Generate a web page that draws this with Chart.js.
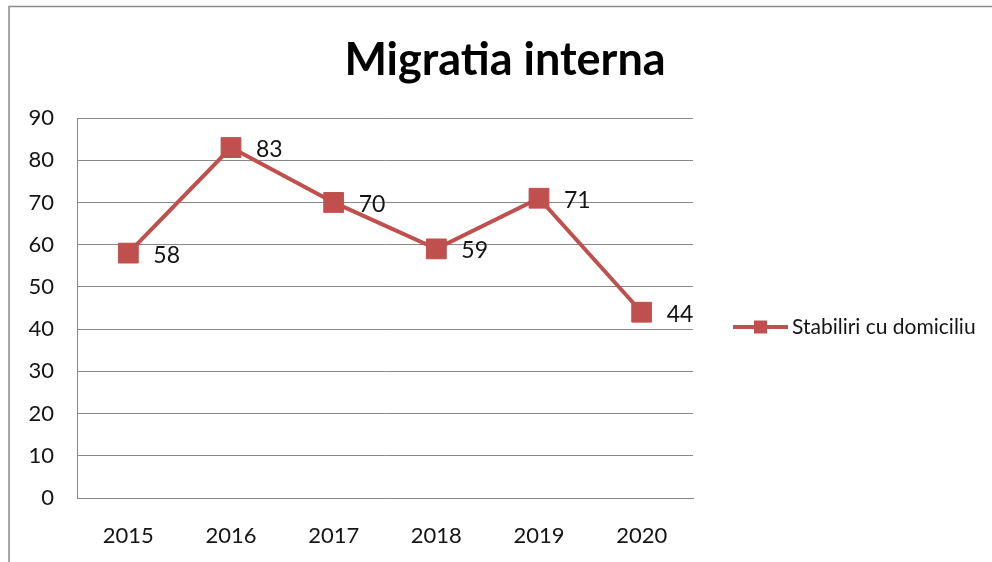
<!DOCTYPE html>
<html>
<head>
<meta charset="utf-8">
<script src="https://cdn.jsdelivr.net/npm/chart.js@4"></script>
<style>
  html, body { margin: 0; padding: 0; background: #fff; }
  #wrap { width: 992px; height: 562px; position: relative; }
</style>
</head>
<body>
<div id="wrap"><canvas id="chart" width="992" height="562"></canvas></div>
<script>
const chartTitle = "Migratia interna";
const seriesName = "Stabiliri cu domiciliu";
const years = ["2015", "2016", "2017", "2018", "2019", "2020"];
const settlements = [58, 83, 70, 59, 71, 44];
const yTicks = [0, 10, 20, 30, 40, 50, 60, 70, 80, 90];

const red = "#C0504D";
const gridColor = "#888888";
const textColor = "#141414";
const fontFamily = "Lato, 'Open Sans', sans-serif";

// frame, title, value labels and legend drawn by hand
const decorPlugin = {
  id: "decor",
  beforeDraw(chart) {
    const ctx = chart.ctx;
    ctx.save();
    ctx.fillStyle = "#fff";
    ctx.fillRect(0, 0, chart.width, chart.height);
    ctx.strokeStyle = "#8c8c8c";
    ctx.lineWidth = 1.5;
    ctx.beginPath();
    ctx.moveTo(9, chart.height);
    ctx.lineTo(9, 6.5);
    ctx.lineTo(chart.width, 6.5);
    ctx.stroke();
    ctx.restore();
  },
  afterDraw(chart) {
    const ctx = chart.ctx;
    const area = chart.chartArea;
    ctx.save();
    // title
    ctx.fillStyle = "#000";
    ctx.font = "bold 45px " + fontFamily;
    ctx.textAlign = "center";
    ctx.textBaseline = "alphabetic";
    ctx.fillText(chartTitle, 505, 75);

    // value labels
    const meta = chart.getDatasetMeta(0);
    ctx.font = "23px " + fontFamily;
    ctx.fillStyle = textColor;
    ctx.textAlign = "left";
    ctx.textBaseline = "middle";
    meta.data.forEach((pt, i) => {
      ctx.fillText(String(settlements[i]), pt.x + 25, pt.y + 2);
    });

    // legend
    const ly = (area.top + area.bottom) / 2 + 19;
    const lx = area.right + 40;
    ctx.strokeStyle = red;
    ctx.lineWidth = 4;
    ctx.beginPath();
    ctx.moveTo(lx, ly);
    ctx.lineTo(lx + 55, ly);
    ctx.stroke();
    ctx.fillStyle = red;
    ctx.fillRect(lx + 21, ly - 6.5, 13, 13);
    ctx.fillStyle = textColor;
    ctx.font = "21px " + fontFamily;
    ctx.fillText(seriesName, lx + 59, ly);
    ctx.restore();
  }
};

new Chart(document.getElementById("chart"), {
  type: "line",
  data: {
    labels: years,
    datasets: [{
      label: seriesName,
      data: settlements,
      borderColor: red,
      backgroundColor: red,
      borderWidth: 4,
      pointStyle: "rect",
      pointRadius: 14,
      pointHoverRadius: 14,
      pointBorderWidth: 1,
      pointBorderColor: red,
      pointBackgroundColor: red,
      tension: 0
    }]
  },
  options: {
    responsive: false,
    animation: false,
    events: [],
    layout: { padding: { top: 118, right: 992 - 693, bottom: 0, left: 0 } },
    plugins: {
      legend: { display: false },
      title: { display: false },
      tooltip: { enabled: false }
    },
    scales: {
      x: {
        offset: true,
        grid: { display: false },
        border: { display: true, color: gridColor, width: 1 },
        ticks: {
          color: textColor,
          font: { family: fontFamily, size: 22 },
          padding: 17
        },
        afterFit(scale) { scale.height = 64; }
      },
      y: {
        min: 0,
        max: 90,
        afterBuildTicks(scale) { scale.ticks = yTicks.map(v => ({ value: v })); },
        grid: { color: gridColor, lineWidth: 1, drawTicks: false },
        border: { display: true, color: gridColor, width: 1 },
        ticks: {
          color: textColor,
          font: { family: fontFamily, size: 22 },
          padding: 23
        },
        afterFit(scale) { scale.width = 77; }
      }
    }
  },
  plugins: [decorPlugin]
});
</script>
</body>
</html>
